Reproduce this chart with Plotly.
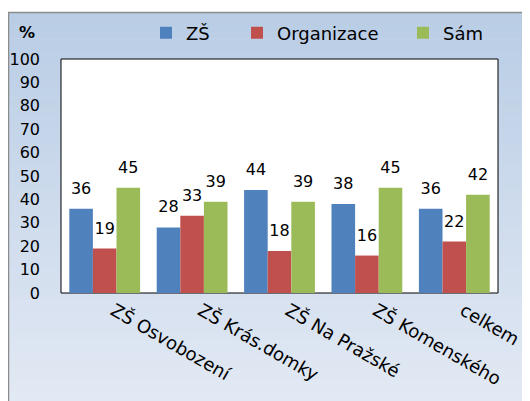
import plotly.graph_objects as go

# data
categories = ["ZŠ Osvobození", "ZŠ Krás.domky", "ZŠ Na Pražské", "ZŠ Komenského", "celkem"]
zs = [36, 28, 44, 38, 36]
organizace = [19, 33, 18, 16, 22]
sam = [45, 39, 39, 45, 42]
y_ticks = list(range(0, 101, 10))

# page has an 8px body margin, so size the figure to fit inside the window
OFF = 8
W, H = 530 - OFF, 401 - OFF
L, R, T, B = 53, 32, 51, 108
ph = H - T - B
pw = W - L - R

# helpers: window pixel -> paper coordinate
def px_x(p):
    return (p - OFF - L) / pw

def px_y(p):
    return (H - B - (p - OFF)) / ph

font = "DejaVu Sans, sans-serif"

fig = go.Figure()
series = [("ZŠ", zs, "#4f81bd", "legend"),
          ("Organizace", organizace, "#c0504d", "legend2"),
          ("Sám", sam, "#9bbb59", "legend3")]
for name, vals, col, lg in series:
    fig.add_trace(go.Bar(
        x=categories, y=vals, name=name, marker_color=col, marker_line_width=0,
        legend=lg, offsetgroup=name,
    ))
# value labels, grouped like the bars so they sit above each one
for name, vals, col, lg in series:
    fig.add_trace(go.Scatter(
        x=categories, y=vals, mode="markers+text", text=vals, textposition="top center",
        marker=dict(size=16, opacity=0), offsetgroup=name, showlegend=False,
        cliponaxis=False, hoverinfo="skip",
        textfont=dict(size=16, color="black", family=font),
    ))

# gradient background frame built from thin strips
top_c = (185, 205, 229)
bot_c = (226, 233, 244)
n = 60
y_top, y_bot = 12, 405
shapes = []
for i in range(n):
    t = i / (n - 1)
    c = tuple(round(a + (b - a) * t) for a, b in zip(top_c, bot_c))
    y0 = y_top + (y_bot - y_top) * i / n
    y1 = y_top + (y_bot - y_top) * (i + 1) / n + 0.6
    shapes.append(dict(type="rect", xref="paper", yref="paper", layer="below",
                       x0=px_x(8), x1=px_x(540), y0=px_y(y1), y1=px_y(y0),
                       fillcolor="rgb(%d,%d,%d)" % c, line_width=0))
shapes.append(dict(type="rect", xref="paper", yref="paper", layer="below",
                   x0=px_x(8.5), x1=px_x(545), y0=px_y(410), y1=px_y(12.5),
                   fillcolor="rgba(0,0,0,0)", line=dict(color="#8c8c8c", width=1.5)))
shapes.append(dict(type="rect", xref="paper", yref="paper", layer="below",
                   x0=0, x1=1, y0=0, y1=1, fillcolor="white", line=dict(color="black", width=1)))

def legend_at(x_px):
    return dict(orientation="h", x=px_x(x_px), y=px_y(33), xanchor="left", yanchor="middle",
                bgcolor="rgba(0,0,0,0)", font=dict(size=18), itemwidth=30)

fig.update_layout(
    width=W, height=H,
    margin=dict(l=L, r=R, t=T, b=B, autoexpand=False),
    paper_bgcolor="white", plot_bgcolor="rgba(0,0,0,0)",
    barmode="group", bargap=0.19, bargroupgap=0,
    scattermode="group", scattergap=0.19,
    font=dict(family=font, size=16, color="black"),
    shapes=shapes,
    showlegend=True,
    legend=legend_at(146), legend2=legend_at(237), legend3=legend_at(403),
    annotations=[dict(text="<b>%</b>", xref="paper", yref="paper", x=px_x(27), y=px_y(33),
                      showarrow=False, font=dict(size=16), xanchor="center", yanchor="middle")],
)
fig.update_yaxes(range=[0, 100], tickvals=y_ticks, showgrid=False, zeroline=False,
                 ticks="", showline=False, tickfont=dict(size=16), ticklabelstandoff=20,
                 automargin=False)
fig.update_xaxes(tickangle=30, showgrid=False, ticks="", showline=False,
                 tickfont=dict(size=18), ticklabelstandoff=3, ticklabelshift=9,
                 automargin=False)

fig.write_html("out.html")
